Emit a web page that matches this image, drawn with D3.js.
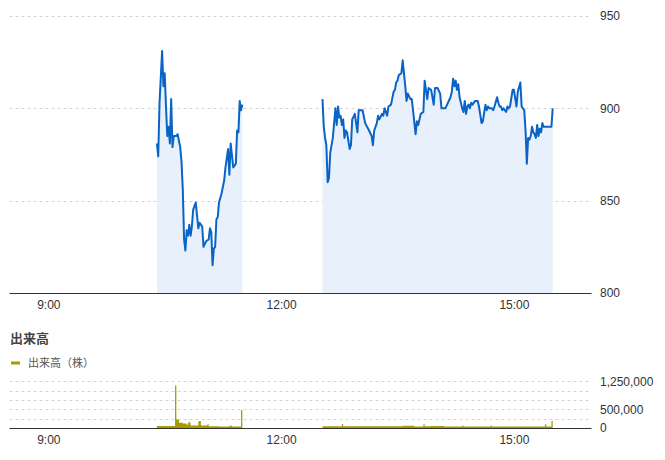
<!DOCTYPE html>
<html><head><meta charset="utf-8">
<script src="https://cdn.jsdelivr.net/npm/d3@7"></script>
<style>
body{margin:0;background:#fff;}
text{font-family:"Liberation Sans",Arial,"Noto Sans CJK JP",sans-serif;}
</style>
</head><body>
<svg id="c" width="665" height="460"></svg>
<script>
// ---- data ----
const priceTimes = ["10:24","10:25","10:26","10:28","10:29","10:30","10:31","10:32","10:33","10:34","10:35","10:36","10:37","10:39","10:40","10:42","10:43","10:44","10:45","10:46","10:47","10:48","10:49","10:50","10:51","10:52","10:54","10:56","10:57","10:59","11:00","11:02","11:04","11:05","11:06","11:07","11:08","11:09","11:10","11:11","11:12","11:14","11:16","11:17","11:19","11:20","11:21","11:23","11:25","11:26","11:27","11:28","11:29","11:30",
"12:32","12:33","12:34","12:35","12:36","12:37","12:38","12:40","12:42","12:43","12:44","12:45","12:46","12:47","12:48","12:49","12:50","12:51","12:53","12:54","12:55","12:57","12:59","13:00","13:03","13:05","13:08","13:10","13:11","13:12","13:14","13:15","13:16","13:18","13:19","13:20","13:22","13:23","13:25","13:27","13:28","13:29","13:30","13:31","13:33","13:34","13:35","13:36","13:37","13:38","13:40","13:41","13:42","13:44","13:45","13:46","13:48","13:50","13:51","13:53","13:54","13:56","13:58","13:59","14:01","14:03","14:04","14:07","14:09","14:11","14:12","14:13","14:14","14:15","14:16","14:17","14:18","14:20","14:21","14:22","14:23","14:24","14:25","14:26","14:27","14:28","14:30","14:32","14:33","14:35","14:36","14:38","14:39","14:40","14:41","14:43","14:44","14:45","14:47","14:48","14:49","14:50","14:51","14:52","14:54","14:55","14:56","14:57","14:59","15:00","15:02","15:03","15:05","15:06","15:07","15:08","15:09","15:10","15:11","15:12","15:13","15:14","15:15","15:16","15:17","15:18","15:19","15:20","15:21","15:22","15:23","15:29","15:30"];
const prices = [881,874,903,931,912,919,901,885,890,881,905,879,885,885,886,879,871,856,829,823,834,831,837,831,836,845,849,835,838,836,825,828,829,835,833,815,824,825,840,841,849,854,861,868,878,864,881,868,870,888,887,904,899,902,
905,890,884,880,860,862,876,884,900,891,901,895,896,891,894,884,888,887,878,880,894,897,887,899,899,892,888,885,880,888,892,896,894,897,896,900,896,901,902,909,910,914,915,918,919,926,919,912,904,908,905,905,899,886,893,891,897,898,915,905,911,910,902,911,911,908,900,900,903,906,909,916,912,915,910,913,906,900,898,904,897,901,902,900,903,902,904,904,901,892,893,902,899,901,900,900,899,901,906,903,901,901,899,900,898,901,900,901,910,910,901,909,914,901,900,899,888,870,884,883,885,890,887,886,884,891,885,889,887,892,890,890,900];

const volumeTimes = ["10:24","10:38","10:39","10:41","10:44","10:47","10:48","10:50","10:56","10:58","11:03","11:04","11:12","11:20","11:22","11:29","11:30",
"12:32","12:47","12:48","13:34","13:43","13:50","13:51","13:56","14:06","14:20","14:21","14:42","14:43","15:24","15:25","15:29","15:30"];
const volumes = [55000,1140000,230000,140000,120000,90000,145000,70000,180000,70000,100000,50000,40000,60000,40000,480000,480000,
45000,110000,45000,60000,40000,100000,45000,55000,40000,70000,40000,70000,40000,100000,40000,190000,190000];

const xTickLabels = ["9:00","12:00","15:00"];
const priceTicks = [800,850,900,950];
const volumeGridTicks = [250000,500000,750000,1000000,1250000];
const volumeTickLabels = [0,500000,1250000];
const volumeTitle = "出来高";
const volumeLegend = "出来高（株）";

// ---- chart ----
const svg = d3.select("#c");
const parse = d3.timeParse("%H:%M");
const lunch = parse("12:00");
const x = d3.scaleTime().domain([parse("8:30"), parse("16:00")]).range([9.5, 591.5]);
const y = d3.scaleLinear().domain([800, 950]).range([293, 16]);
const yv = d3.scaleLinear().domain([0, 1250000]).range([428, 381.4]);

function segments(times, vals) {
  const pts = times.map((t, i) => ({t: parse(t), v: vals[i]}));
  const segs = [[]];
  pts.forEach((p, i) => {
    if (i > 0 && pts[i-1].t < lunch && p.t > lunch) segs.push([]);
    segs[segs.length - 1].push(p);
  });
  return segs;
}

// price grid
svg.append("g").selectAll("line").data(priceTicks.filter(d => d > 800)).join("line")
  .attr("x1", 9.5).attr("x2", 591.5)
  .attr("y1", d => Math.round(y(d)) + 0.5).attr("y2", d => Math.round(y(d)) + 0.5)
  .attr("stroke", "#d4d4d4").attr("stroke-dasharray", "3,3");

const pSegs = segments(priceTimes, prices);
const area = d3.area().x(d => x(d.t)).y0(y(800)).y1(d => y(d.v));
const line = d3.line().x(d => x(d.t)).y(d => y(d.v));
svg.append("g").selectAll("path").data(pSegs).join("path")
  .attr("d", area).attr("fill", "#e8f1fb");
svg.append("g").selectAll("path").data(pSegs).join("path")
  .attr("d", line).attr("fill", "none").attr("stroke", "#0a63c6")
  .attr("stroke-width", 2).attr("stroke-linejoin", "round");

// price axes
svg.append("line").attr("x1", 9.5).attr("x2", 591.5).attr("y1", 293.5).attr("y2", 293.5).attr("stroke", "#333");
const yAxis = d3.axisRight(y).tickValues(priceTicks).tickSize(0).tickPadding(0);
svg.append("g").attr("transform", "translate(600,0)").call(yAxis)
  .call(g => g.select(".domain").remove())
  .call(g => g.selectAll("text").attr("fill", "#333").style("font-size", "12px"));
const xTicks = xTickLabels.map(parse);
const xAxis = d3.axisBottom(x).tickValues(xTicks).tickFormat(d3.timeFormat("%-H:%M")).tickSize(0).tickPadding(7);
svg.append("g").attr("transform", "translate(0,293)").call(xAxis)
  .call(g => g.select(".domain").remove())
  .call(g => g.selectAll("text").attr("fill", "#333").style("font-size", "12px"));

// volume title & legend
svg.append("text").attr("x", 10).attr("y", 343).text(volumeTitle)
  .attr("fill", "#444").style("font-size", "13px").style("font-weight", "bold");
svg.append("line").attr("x1", 11).attr("x2", 20).attr("y1", 363).attr("y2", 363)
  .attr("stroke", "#a59d00").attr("stroke-width", 3);
svg.append("text").attr("x", 28).attr("y", 367).text(volumeLegend)
  .attr("fill", "#555").style("font-size", "11px");

// volume grid
svg.append("g").selectAll("line").data(volumeGridTicks).join("line")
  .attr("x1", 9.5).attr("x2", 591.5)
  .attr("y1", d => Math.round(yv(d)) + 0.5).attr("y2", d => Math.round(yv(d)) + 0.5)
  .attr("stroke", "#d4d4d4").attr("stroke-dasharray", "3,3");

const vSegs = segments(volumeTimes, volumes);
const varea = d3.area().curve(d3.curveStepAfter).x(d => x(d.t)).y0(yv(0)).y1(d => yv(d.v));
svg.append("g").selectAll("path").data(vSegs).join("path")
  .attr("d", varea).attr("fill", "#a59d00");

svg.append("line").attr("x1", 9.5).attr("x2", 591.5).attr("y1", 428.5).attr("y2", 428.5).attr("stroke", "#333");
const yvAxis = d3.axisRight(yv).tickValues(volumeTickLabels).tickFormat(d3.format(",")).tickSize(0).tickPadding(0);
svg.append("g").attr("transform", "translate(600,0)").call(yvAxis)
  .call(g => g.select(".domain").remove())
  .call(g => g.selectAll("text").attr("fill", "#333").style("font-size", "12px"));
svg.append("g").attr("transform", "translate(0,428)").call(xAxis)
  .call(g => g.select(".domain").remove())
  .call(g => g.selectAll("text").attr("fill", "#333").style("font-size", "12px"));
</script>
</body></html>
